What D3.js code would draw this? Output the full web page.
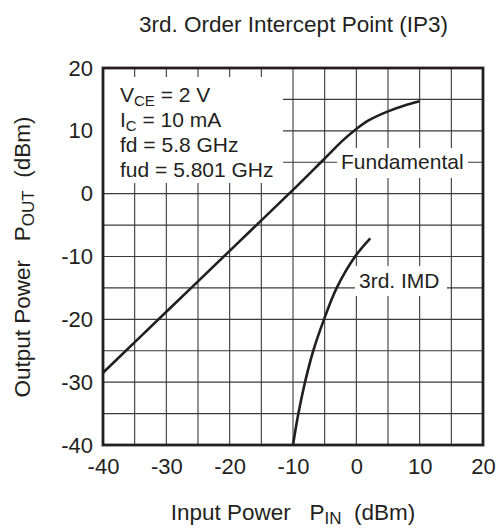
<!DOCTYPE html>
<html lang="en">
<head>
<meta charset="utf-8">
<title>3rd. Order Intercept Point (IP3)</title>
<script src="https://d3js.org/d3.v7.min.js"></script>
<style>
  body { margin: 0; background: #fff; }
  svg text { font-family: "Liberation Sans", Arial, sans-serif; fill: #231f20; white-space: pre; }
</style>
</head>
<body>
<div id="chart"></div>
<script>
// data
var fundIn  = [-40, -30, -20, -10, -5, -2, 0, 2, 5, 7.5, 10];
var fundOut = [-28.5, -18.8, -9.1, 0.6, 5.6, 8.6, 10.3, 11.7, 13.1, 14.0, 14.7];

var imdIn  = [-10, -9.15, -8.1, -6.8, -5.1, -3.1, -0.2, 2.2];
var imdOut = [-40, -35, -30, -25, -20, -15, -10, -7.1];

var xTicks = [-40, -30, -20, -10, 0, 10, 20];
var yTicks = [-40, -30, -20, -10, 0, 10, 20];
var conditions = [["V", "CE", " = 2 V"], ["I", "C", " = 10 mA"], ["fd = 5.8 GHz"], ["fud = 5.801 GHz"]];

var W = 501, H = 528;
var pLeft = 103, pRight = 483, pTop = 68, pBottom = 445;

var svg = d3.select("#chart").append("svg")
    .attr("width", W).attr("height", H);

var x = d3.scaleLinear().domain([-40, 20]).range([pLeft, pRight]);
var y = d3.scaleLinear().domain([-40, 20]).range([pBottom, pTop]);

// grid every 5
var grid = svg.append("g");
grid.selectAll(".vg").data(d3.range(-35, 20, 5)).enter().append("line")
    .attr("x1", d => x(d)).attr("x2", d => x(d))
    .attr("y1", pTop).attr("y2", pBottom)
    .attr("stroke", "#3a3a3a").attr("stroke-width", 1.1);
grid.selectAll(".hg").data(d3.range(-35, 20, 5)).enter().append("line")
    .attr("y1", d => y(d)).attr("y2", d => y(d))
    .attr("x1", pLeft).attr("x2", pRight)
    .attr("stroke", "#3a3a3a").attr("stroke-width", 1.1);

// white boxes behind the labels
svg.append("rect").attr("x", pLeft + 1).attr("y", 77).attr("width", 179).attr("height", 106).attr("fill", "#fff");
svg.append("rect").attr("x", 337).attr("y", 148).attr("width", 131).attr("height", 30).attr("fill", "#fff");
svg.append("rect").attr("x", 355).attr("y", 266).attr("width", 92).attr("height", 30).attr("fill", "#fff");

// curves
var line = d3.line()
    .x(d => x(d[0])).y(d => y(d[1]))
    .curve(d3.curveCatmullRom.alpha(0.5));

svg.append("path")
    .datum(fundIn.map((v, i) => [v, fundOut[i]]))
    .attr("d", line)
    .attr("fill", "none").attr("stroke", "#231f20").attr("stroke-width", 2.6);

svg.append("path")
    .datum(imdIn.map((v, i) => [v, imdOut[i]]))
    .attr("d", line)
    .attr("fill", "none").attr("stroke", "#231f20").attr("stroke-width", 2.6);

// frame
svg.append("rect")
    .attr("x", pLeft).attr("y", pTop)
    .attr("width", pRight - pLeft).attr("height", pBottom - pTop)
    .attr("fill", "none").attr("stroke", "#231f20").attr("stroke-width", 2.8);

// axes
var xAxis = d3.axisBottom(x).tickValues(xTicks).tickFormat(d => String(d)).tickSize(0).tickPadding(13);
svg.append("g").attr("transform", "translate(0," + pBottom + ")").call(xAxis)
    .call(g => g.select(".domain").remove())
    .selectAll("text").attr("font-size", 22).style("font-family", null);

var yAxis = d3.axisLeft(y).tickValues(yTicks).tickFormat(d => String(d)).tickSize(0).tickPadding(10);
svg.append("g").attr("transform", "translate(" + pLeft + ",0)").call(yAxis)
    .call(g => g.select(".domain").remove())
    .selectAll("text").attr("font-size", 22).style("font-family", null);

// title
svg.append("text").attr("x", 293.5).attr("y", 32)
    .attr("text-anchor", "middle").attr("font-size", 22.5)
    .text("3rd. Order Intercept Point (IP3)");

// x title
var xt = svg.append("text").attr("x", 293).attr("y", 520)
    .attr("text-anchor", "middle").attr("font-size", 22.5);
xt.append("tspan").text("Input Power   P");
xt.append("tspan").attr("font-size", 17).attr("dy", 4).text("IN");
xt.append("tspan").attr("dy", -4).text("  (dBm)");

// y title
var yt = svg.append("text")
    .attr("transform", "translate(30,257) rotate(-90)")
    .attr("text-anchor", "middle").attr("font-size", 22.5);
yt.append("tspan").text("Output Power   P");
yt.append("tspan").attr("font-size", 17).attr("dy", 4).text("OUT");
yt.append("tspan").attr("dy", -4).text("  (dBm)");

// conditions
conditions.forEach(function (c, i) {
  var t = svg.append("text").attr("x", 120).attr("y", 102 + i * 25).attr("font-size", 21);
  t.append("tspan").text(c[0]);
  if (c.length > 1) {
    t.append("tspan").attr("font-size", 15).attr("dy", 4).text(c[1]);
    t.append("tspan").attr("dy", -4).text(c[2]);
  }
});

svg.append("text").attr("x", 341).attr("y", 169).attr("font-size", 21).text("Fundamental");
svg.append("text").attr("x", 359).attr("y", 288).attr("font-size", 21).text("3rd. IMD");
</script>
</body>
</html>
